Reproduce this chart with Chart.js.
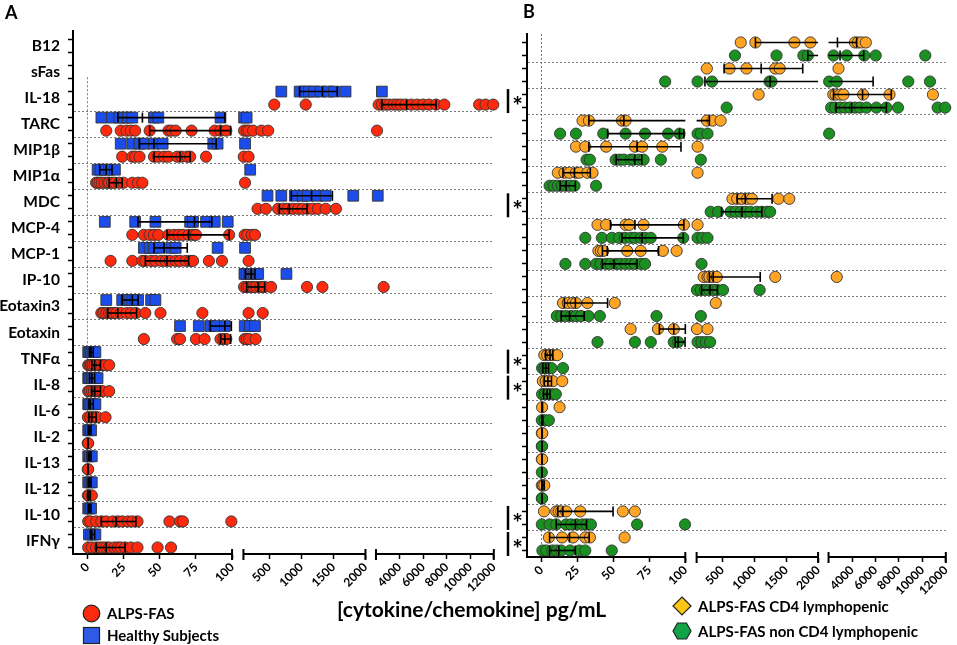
<!DOCTYPE html>
<html>
<head>
<meta charset="utf-8">
<script src="https://cdn.jsdelivr.net/npm/chart.js@4.4.1/dist/chart.umd.min.js"></script>
<style>
  body { margin: 0; background: #fff; font-family: Lato, "Open Sans", sans-serif; }
  #page { position: relative; width: 957px; height: 645px; overflow: hidden; }
  canvas { position: absolute; top: 0; }
  .panel { position: absolute; font-weight: bold; font-size: 18px; line-height: 20px; }
  .legend { position: absolute; display: flex; align-items: center; font-weight: bold; font-size: 15px; height: 18px; white-space: nowrap; }
  .legend svg { margin-right: 6px; }
  #axisTitle { position: absolute; left: 337px; top: 597px; font-weight: bold; font-size: 21px; line-height: 24px; white-space: nowrap; }
</style>
</head>
<body>
<div id="page">
  <canvas id="chartA" width="505" height="645" style="left:0;width:505px;height:645px"></canvas>
  <canvas id="chartB" width="462" height="645" style="left:495px;width:462px;height:645px"></canvas>
  <div class="panel" style="left:5px;top:2px">A</div>
  <div class="panel" style="left:523px;top:1px">B</div>

  <div class="legend" style="left:82px;top:604px">
    <svg width="19" height="19"><circle cx="9.5" cy="9.5" r="8.3" fill="#ff2a0d" stroke="#222" stroke-width="1.2"/></svg>ALPS-FAS
  </div>
  <div class="legend" style="left:82px;top:626px">
    <svg width="19" height="19"><rect x="1.5" y="1.5" width="16" height="16" fill="#2d5be8" stroke="#222" stroke-width="1.2"/></svg>Healthy Subjects
  </div>
  <div id="axisTitle">[cytokine/chemokine] pg/mL</div>
  <div class="legend" style="left:672px;top:597px">
    <svg width="20" height="20"><polygon points="10,1 19,10 10,19 1,10" fill="#ffc515" stroke="#222" stroke-width="1.2"/></svg>ALPS-FAS CD4 lymphopenic
  </div>
  <div class="legend" style="left:672px;top:622px">
    <svg width="20" height="20"><polygon points="1,10 5.5,2 14.5,2 19,10 14.5,18 5.5,18" fill="#12a248" stroke="#222" stroke-width="1.2"/></svg>ALPS-FAS non CD4 lymphopenic
  </div>
</div>

<script>
const rowNames = ['B12', 'sFas', 'IL-18', 'TARC', 'MIP1β', 'MIP1α', 'MDC', 'MCP-4', 'MCP-1', 'IP-10',
  'Eotaxin3', 'Eotaxin', 'TNFα', 'IL-8', 'IL-6', 'IL-2', 'IL-13', 'IL-12', 'IL-10', 'IFNγ']
const xTickValues = [0, 25, 50, 75, 100, 500, 1000, 1500, 2000, 4000, 6000, 8000, 10000, 12000]

// panel A - healthy subjects (pg/mL, one list per row)
const healthyValues = [
  [], [],
  [690, 975, 1050, 1120, 1200, 1300, 1420, 1510, 1690, 2500],
  [9.6, 17, 22, 25, 28, 31, 46, 49, 92, 110, 150],
  [23, 31, 36, 39, 46, 52, 87, 90, 125],
  [7, 9, 12, 15, 19, 205],
  [475, 690, 900, 1020, 1100, 1250, 1380, 1810, 2150],
  [12, 33, 47, 71, 73, 82, 88, 97],
  [39, 43, 46, 50, 58, 61, 90, 125],
  [115, 150, 190, 225, 260, 300, 330, 770],
  [13, 24, 27, 29, 31, 33, 35, 44, 47],
  [64, 77, 85, 88, 95, 120, 200, 280],
  [0.5, 1.5, 2.5, 3.5, 4.5, 5.5],
  [0.5, 1, 2, 3, 4, 5, 7],
  [0.5, 1, 2, 3.5, 5.5],
  [0.5, 1.5, 2.5],
  [0.5, 1.5, 3],
  [0.5, 2, 3],
  [0.5, 1.5, 2.5],
  [1, 2.5, 4, 5.5]
]
// [low, median, high] of each row
const healthyStats = [
  null, null, [975, 1330, 1560], [21, 38, 95], [36, 46, 89], [8.5, 13, 17], [845, 1160, 1485],
  [35, 74, 86], [46, 53, 69], [130, 220, 280], [24, 31, 35], [85, 95, 99.5], [1.5, 2.5, 4],
  [1.5, 3, 5], [1, 2, 4], [0.5, 1.5, 2.5], [0.5, 1.5, 2.5], [0.5, 1.5, 2.5], [0.5, 1.5, 2.5], [2, 3, 5]
]

// panel A - ALPS-FAS
const alpsValues = [
  [], [],
  [580, 1070, 2230, 2500, 2800, 3100, 3500, 3800, 4100, 4500, 5000, 5500, 6000, 6500, 7100, 7800, 10750, 11300, 11950],
  [13, 23, 27, 30, 33, 43, 56, 58, 61, 72, 88, 92, 96, 110, 150, 180, 250, 380, 485, 2090],
  [24, 31, 33, 36, 46, 49, 53, 56, 62, 65, 69, 71, 82, 105, 180],
  [6, 7, 8.5, 10, 12, 14, 15, 17, 19, 22, 25, 31, 35, 38, 125],
  [320, 450, 640, 720, 790, 870, 950, 1020, 1100, 1180, 1260, 1380, 1540],
  [31, 39, 43, 46, 49, 56, 60, 63, 66, 70, 73, 75, 98, 120, 160, 230, 280],
  [16, 31, 38, 40, 44, 47, 51, 54, 57, 61, 64, 68, 71, 73, 84, 93, 180],
  [110, 150, 180, 230, 260, 300, 360, 400, 430, 530, 1090, 1330, 2650],
  [9.6, 11, 13, 15, 16.5, 18, 20, 23, 27, 30, 33.5, 40, 50.5, 79.5, 180, 400],
  [39, 62, 64, 75, 81, 92, 94, 96, 120, 150, 190, 290],
  [0.5, 1.5, 2.5, 3.5, 5, 6.5, 8, 10, 12, 15],
  [0.5, 1.5, 3, 4.5, 6, 7.5, 9, 10.5, 15],
  [0.3, 2, 4, 5.5, 7, 12.5],
  [0.2, 0.5],
  [0.2, 0.5],
  [0.3, 1, 3],
  [0.5, 2, 6, 9.6, 13, 17.5, 21, 24, 28, 31, 34.6, 56.7, 64, 66, 99.5],
  [0.5, 3, 6, 8.5, 10.7, 13, 15, 18.7, 21, 23, 26, 30, 34.6, 48.5, 57.8]
]
const alpsStats = [
  null, null, [2500, 4600, 7100], [43, 92, 99], [46, 64, 71], [15, 20, 24], [660, 815, 1090],
  [55, 70, 98], [40, 55, 70], [150, 330, 430], [14, 21, 34], [92, 95, 99], [3, 5, 9],
  [3, 5, 9], [1, 3, 6], [0.2, 0.3, 0.5], [0.2, 0.3, 0.5], [0.3, 1, 2], [9.6, 19.8, 33.5], [6, 13, 26]
]

// panel B - CD4 lymphopenic
const cd4LowValues = [
  [790, 1020, 1630, 1880, 4250, 4500, 4800, 5180],
  [260, 615, 880, 1330, 1400, 2850],
  [1070, 2400, 2600, 3000, 3270, 4950, 7200, 10900],
  [28.6, 33, 56, 58.5, 260, 350, 475],
  [24, 30.5, 45, 65, 70, 84, 115],
  [11.4, 16, 19.5, 24, 26.4, 32, 35.5, 115],
  [660, 735, 810, 890, 965, 1380, 1550],
  [39, 45, 58.5, 61, 71, 99, 115],
  [39.6, 41.3, 43, 59.6, 69, 84.4, 94],
  [210, 270, 300, 350, 415, 1330, 2700],
  [15, 18.3, 21.7, 24, 32, 51, 400],
  [62, 81, 92, 105, 270],
  [2, 4, 6, 8, 11],
  [1, 3, 5, 8, 14.5],
  [0.5, 12.6],
  [0.3, 0.6],
  [0.3, 0.5],
  [0.3, 1, 2],
  [1.8, 10.3, 12, 13.8, 17.2, 27, 56.6, 65],
  [5.2, 14.4, 22, 30.5, 33.7, 57.8]
]
const cd4LowStats = [
  [1020, 2760, 4400], [530, 1110, 1760], [2420, 4900, 7350], [33, 57.3, 300], [33, 66.5, 97],
  [15, 23, 34], [735, 860, 1280], [48, 65, 99], [42.4, 45.8, 81.4], [300, 360, 1095],
  [16, 23.6, 46], [82, 92, 100], [3, 6, 8], [2, 4.5, 7], [0.3, 0.5, 0.8],
  [0.3, 0.4, 0.6], [0.3, 0.4, 0.5], [0.3, 1, 2], [11.4, 14.9, 49.8], [5.7, 19.5, 33.2]
]

// panel B - non CD4 lymphopenic
const nonCd4Values = [
  [700, 1350, 1770, 1840, 2420, 3550, 5040, 6020, 10250],
  [86, 115, 340, 1240, 1270, 2050, 2700, 8800, 10650],
  [570, 2220, 2560, 2980, 3400, 3830, 4250, 4670, 5240, 6080, 6930, 7920, 11300, 11950],
  [13, 24, 43, 58.5, 72, 88, 96, 115, 165, 270, 2050],
  [31.4, 33.7, 51.6, 54.4, 57.3, 62, 64, 67.7, 71, 83, 166],
  [5.7, 8.5, 11.4, 14.2, 17.2, 20, 23, 38],
  [320, 436, 630, 710, 790, 860, 940, 1040, 1120, 1200, 1250],
  [30.5, 42, 49, 54, 58, 62, 65, 69, 72, 76, 98.6, 115, 190, 270],
  [16.7, 30.5, 38, 41, 45, 48, 52, 55, 58.5, 62, 65, 69, 72, 177],
  [105, 167, 228, 297, 362, 425, 513, 1086],
  [10.7, 13.8, 17, 20.6, 24, 27.5, 32.8, 40.6, 80, 166],
  [39, 65, 76, 92, 95, 115, 177, 243, 311],
  [0.5, 2, 3.5, 5, 7, 15],
  [0.5, 2.5, 4.5, 7, 10],
  [0.3, 2.3, 5.2],
  [0.3, 0.5],
  [0.3],
  [0.3, 0.5],
  [0.3, 5.7, 10.3, 17.2, 20.6, 24.5, 28.6, 31.4, 34.4, 66.5, 99.8],
  [0.7, 3.4, 7.6, 10.7, 13.8, 20, 26.4, 30.5, 48.9]
]
const nonCd4Stats = [
  [1840, 2980, 5000], [230, 1250, 5800], [2640, 3970, 6930], [46, 96, 99], [52, 64.9, 69.8],
  [13, 17.2, 23.6], [490, 810, 1120], [56, 70, 98.6], [42.4, 50.4, 66.5], [177, 310, 425],
  [13.8, 19.5, 29.8], [93, 95, 99.8], [1, 3, 5], [1.5, 4, 6], [0.3, 0.5, 1],
  [0.3, 0.4, 0.5], [0.3, 0.3, 0.3], [0.3, 0.4, 0.5], [10.3, 23.6, 31.4], [5.7, 12.1, 23.6]
]

// rows marked with * between CD4 lymphopenic and non lymphopenic
const starRows = [2, 6, 12, 13, 18, 19]

// the x axis is cut in three linear pieces
const axisPieces = [
  {min: -10, max: 100, from: 0, to: 0.378},
  {min: 100, max: 2000, from: 0.405, to: 0.695},
  {min: 2000, max: 12000, from: 0.72, to: 1}
]

class BrokenScale extends Chart.LinearScale {
  buildTicks() {
    return xTickValues.map(v => ({value: v}))
  }
  getPixelForValue(value) {
    let p = axisPieces.find(p => value <= p.max) || axisPieces[axisPieces.length - 1]
    let frac = p.from + (value - p.min) / (p.max - p.min) * (p.to - p.from)
    return this.getPixelForDecimal(frac)
  }
  getValueForPixel(pixel) {
    let d = this.getDecimalForPixel(pixel)
    let p = axisPieces.find(p => d <= p.to) || axisPieces[axisPieces.length - 1]
    return p.min + (d - p.from) / (p.to - p.from) * (p.max - p.min)
  }
  drawBorder() {
    const ctx = this.ctx
    const y = this.top
    ctx.save()
    ctx.strokeStyle = '#000'
    ctx.lineWidth = 2
    axisPieces.forEach((p, i) => {
      let x1 = this.getPixelForDecimal(p.from)
      let x2 = this.getPixelForDecimal(p.to)
      ctx.beginPath()
      ctx.moveTo(x1, y)
      ctx.lineTo(x2, y)
      if (i > 0) {
        ctx.moveTo(x1, y - 5)
        ctx.lineTo(x1, y + 6)
      }
      ctx.moveTo(x2, y - 5)
      ctx.lineTo(x2, y + 6)
      ctx.stroke()
    })
    ctx.restore()
  }
}
BrokenScale.id = 'broken'
BrokenScale.defaults = Chart.LinearScale.defaults
Chart.register(BrokenScale)

Chart.defaults.font.family = 'Lato, "Open Sans", sans-serif'
Chart.defaults.color = '#000'

function pointsFor(values, sub) {
  let pts = []
  values.forEach((vals, i) => vals.forEach(v => pts.push({x: v, y: 2 * i + sub})))
  return pts
}

function markerSet(values, sub, style, radius, color) {
  return {
    data: pointsFor(values, sub),
    pointStyle: style,
    pointRadius: radius,
    pointBackgroundColor: color,
    pointBorderColor: '#333',
    pointBorderWidth: 0.9,
    order: 1,
    clip: false
  }
}

function errorBarSets(stats, sub) {
  let sets = []
  stats.forEach((s, i) => {
    if (!s) return
    let y = 2 * i + sub
    let pts = s.map(v => ({x: v, y: y, cap: true}))
    // break the bar where it jumps over a gap of the axis
    axisPieces.slice(1).forEach(p => {
      if (s[0] < p.min && s[2] > p.min) {
        pts.push({x: p.min, y: y}, {x: p.min + 1e-6, y: null}, {x: p.min + 2e-6, y: y})
      }
    })
    pts.sort((a, b) => a.x - b.x)
    sets.push({
      data: pts,
      showLine: true,
      spanGaps: false,
      borderColor: '#000',
      borderWidth: 1.6,
      pointStyle: 'line',
      pointRotation: 90,
      pointBorderColor: '#000',
      pointBorderWidth: 1.6,
      pointRadius: ctx => (ctx.raw && ctx.raw.cap) ? 5 : 0,
      order: 0,
      clip: false
    })
  })
  return sets
}

let yTicks = []
for (let k = 0; k < 40; k++) yTicks.push(k)
for (let k = 1.5; k < 38; k += 2) yTicks.push(k)
yTicks.sort((a, b) => a - b)

function yAxis(showLabels, firstLine, width) {
  return {
    type: 'linear',
    reverse: true,
    min: -0.65,
    max: 39.5,
    afterBuildTicks: scale => { scale.ticks = yTicks.map(v => ({value: v})) },
    afterFit: scale => { scale.width = width },
    ticks: {
      display: showLabels,
      autoSkip: false,
      labelOffset: 6.5,
      padding: 8,
      color: '#000',
      font: {size: 15.5, weight: 'bold'},
      callback: v => (Number.isInteger(v) && v % 2 === 0) ? rowNames[v / 2] : ''
    },
    grid: {
      color: ctx => (ctx.tick && ctx.tick.value % 1 && ctx.tick.value > firstLine) ? '#7a7a7a' : 'rgba(0,0,0,0)',
      tickColor: ctx => (ctx.tick && ctx.tick.value % 1) ? 'rgba(0,0,0,0)' : '#000',
      tickLength: 5,
      tickWidth: 1.5,
      lineWidth: 1
    },
    border: {color: '#000', width: 2, dash: [2, 2]}
  }
}

function xAxis(zeroGrid) {
  return {
    type: 'broken',
    min: -10,
    max: 12000,
    afterFit: scale => { scale.height = 50 },
    ticks: {
      autoSkip: false,
      maxRotation: 45,
      minRotation: 45,
      padding: 1,
      color: '#000',
      font: {size: 12, weight: 'bold'},
      callback: v => String(v)
    },
    grid: {
      color: ctx => (zeroGrid && ctx.tick && ctx.tick.value === 0) ? '#7a7a7a' : 'rgba(0,0,0,0)',
      tickColor: '#000',
      tickLength: 5,
      tickWidth: 1.5,
      lineWidth: 1
    },
    border: {color: '#000', width: 2, dash: [2, 2]}
  }
}

// dotted line at zero in panel A only runs from the IL-18 row down
const zeroLinePlugin = {
  id: 'zeroLine',
  beforeDatasetsDraw(chart) {
    const {ctx, scales: {x, y}} = chart
    let px = x.getPixelForValue(0)
    ctx.save()
    ctx.strokeStyle = '#7a7a7a'
    ctx.lineWidth = 1
    ctx.setLineDash([2, 2])
    ctx.beginPath()
    ctx.moveTo(px, y.getPixelForValue(2.9))
    ctx.lineTo(px, y.bottom)
    ctx.stroke()
    ctx.restore()
  }
}

const starPlugin = {
  id: 'stars',
  afterDatasetsDraw(chart) {
    const {ctx, chartArea} = chart
    const y = chart.scales.y
    ctx.save()
    ctx.strokeStyle = '#000'
    ctx.fillStyle = '#000'
    ctx.lineWidth = 2.5
    ctx.font = 'bold 25px Lato'
    ctx.textAlign = 'center'
    ctx.textBaseline = 'middle'
    starRows.forEach(r => {
      let top = y.getPixelForValue(2 * r - 0.42)
      let bottom = y.getPixelForValue(2 * r + 1.42)
      let x = chartArea.left - 19
      ctx.beginPath()
      ctx.moveTo(x, top)
      ctx.lineTo(x, bottom)
      ctx.stroke()
      ctx.fillText('*', chartArea.left - 9.5, (top + bottom) / 2 + 6)
    })
    ctx.restore()
  }
}

function baseOptions(padding, xScale, yScale) {
  return {
    responsive: false,
    animation: false,
    events: [],
    layout: {padding: padding},
    plugins: {legend: {display: false}, tooltip: {enabled: false}},
    scales: {x: xScale, y: yScale}
  }
}

new Chart(document.getElementById('chartA'), {
  type: 'scatter',
  data: {
    datasets: [
      ...errorBarSets(healthyStats, 0),
      ...errorBarSets(alpsStats, 1),
      markerSet(healthyValues, 0, 'rect', 7.6, '#1b4ded'),
      markerSet(alpsValues, 1, 'circle', 5.6, '#ff2a0d')
    ]
  },
  options: baseOptions({top: 31, bottom: 41, left: 0, right: 7}, xAxis(false), yAxis(true, 5, 73)),
  plugins: [zeroLinePlugin]
})

new Chart(document.getElementById('chartB'), {
  type: 'scatter',
  data: {
    datasets: [
      ...errorBarSets(cd4LowStats, 0),
      ...errorBarSets(nonCd4Stats, 1),
      markerSet(cd4LowValues, 0, 'circle', 5.6, '#ffa424'),
      markerSet(nonCd4Values, 1, 'circle', 5.6, '#19901f')
    ]
  },
  options: baseOptions({top: 34, bottom: 38, left: 0, right: 7}, xAxis(true), yAxis(false, 0, 32)),
  plugins: [starPlugin]
})
</script>
</body>
</html>
